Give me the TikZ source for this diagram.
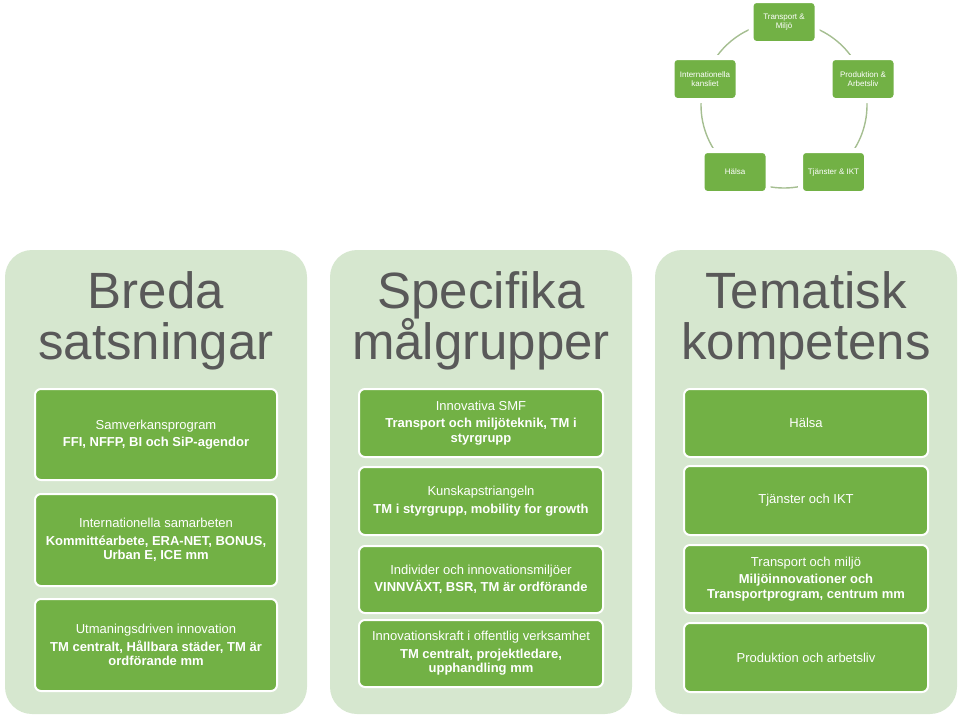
\documentclass[tikz,border=0pt]{standalone}
\usepackage{fontspec}
\setmainfont{Liberation Sans}
\definecolor{panel}{RGB}{214,231,207}
\definecolor{boxg}{RGB}{114,177,69}
\definecolor{titleg}{RGB}{89,89,89}
\definecolor{ring}{RGB}{165,190,145}
\begin{document}
\begin{tikzpicture}[x=1pt,y=-1pt,
  panelbox/.style={fill=panel, draw=none, rounded corners=27pt, inner sep=0pt, minimum width=302pt, minimum height=464pt},
  gbox/.style={fill=boxg, draw=white, line width=2pt, rounded corners=6pt, text=white, align=center, inner sep=0pt, font=\fontsize{13}{14.5}\selectfont},
  lcol/.style={gbox, minimum width=242pt},
  wcol/.style={gbox, minimum width=244pt},
  cbox/.style={fill=boxg, draw=white, line width=5pt, rounded corners=5pt, text=white, align=center, inner sep=0pt, minimum width=66pt, minimum height=43pt, font=\fontsize{8}{9.5}\selectfont},
  titletext/.style={text=titleg, anchor=base, inner sep=0pt, font=\fontsize{51}{51}\selectfont}]
\useasboundingbox (0,0) rectangle (960,716);

% top cycle
\coordinate (cc) at (784,105);
\draw[ring, line width=1.4pt] (cc) circle[radius=83pt];
\node[cbox] (c1) at (784,22) {Transport \&\\Miljö};
\node[cbox] (c2) at (863,79) {Produktion \&\\Arbetsliv};
\node[cbox] (c3) at (833.5,172) {Tjänster \& IKT};
\node[cbox] (c4) at (735,172) {Hälsa};
\node[cbox] (c5) at (705,79) {Internationella\\kansliet};

% panels
\node[panelbox] (p1) at (156,482) {};
\node[panelbox] (p2) at (481,482) {};
\node[panelbox] (p3) at (806,482) {};

% titles
\node[titletext] (t1a) at (156,308) {Breda};
\node[titletext] (t1b) at (156,359) {satsningar};
\node[titletext] (t2a) at (481,308) {Specifika};
\node[titletext] (t2b) at (481,359) {målgrupper};
\node[titletext] (t3a) at (806,308) {Tematisk};
\node[titletext] (t3b) at (806,359) {kompetens};

% left column
\node[lcol, minimum height=91pt] (l1) at (156,434.5)
  {Samverkansprogram\\[3pt]\bfseries FFI, NFFP, BI och SiP-agendor};
\node[lcol, minimum height=92pt] (l2) at (156,540)
  {Internationella samarbeten\\[3pt]\bfseries Kommittéarbete, ERA-NET, BONUS,\\\bfseries Urban E, ICE mm};
\node[lcol, minimum height=92pt] (l3) at (156,645)
  {Utmaningsdriven innovation\\[3pt]\bfseries TM centralt, Hållbara städer, TM är\\\bfseries ordförande mm};

% middle column
\node[wcol, minimum height=68pt] (m1) at (481,423)
  {Innovativa SMF\\[3pt]\bfseries Transport och miljöteknik, TM i\\\bfseries styrgrupp};
\node[wcol, minimum height=68pt] (m2) at (481,501)
  {Kunskapstriangeln\\[3pt]\bfseries TM i styrgrupp, mobility for growth};
\node[wcol, minimum height=67pt] (m3) at (481,579.5)
  {Individer och innovationsmiljöer\\[3pt]\bfseries VINNVÄXT, BSR, TM är ordförande};
\node[wcol, minimum height=67pt] (m4) at (481,653.5)
  {Innovationskraft i offentlig verksamhet\\[3pt]\bfseries TM centralt, projektledare,\\\bfseries upphandling mm};

% right column
\node[wcol, minimum height=68pt] (r1) at (806,423) {Hälsa};
\node[wcol, minimum height=69pt] (r2) at (806,500.5) {Tjänster och IKT};
\node[wcol, minimum height=68pt] (r3) at (806,579)
  {Transport och miljö\\[3pt]\bfseries Miljöinnovationer och\\\bfseries Transportprogram, centrum mm};
\node[wcol, minimum height=69pt] (r4) at (806,657.5) {Produktion och arbetsliv};
\end{tikzpicture}
\end{document}
